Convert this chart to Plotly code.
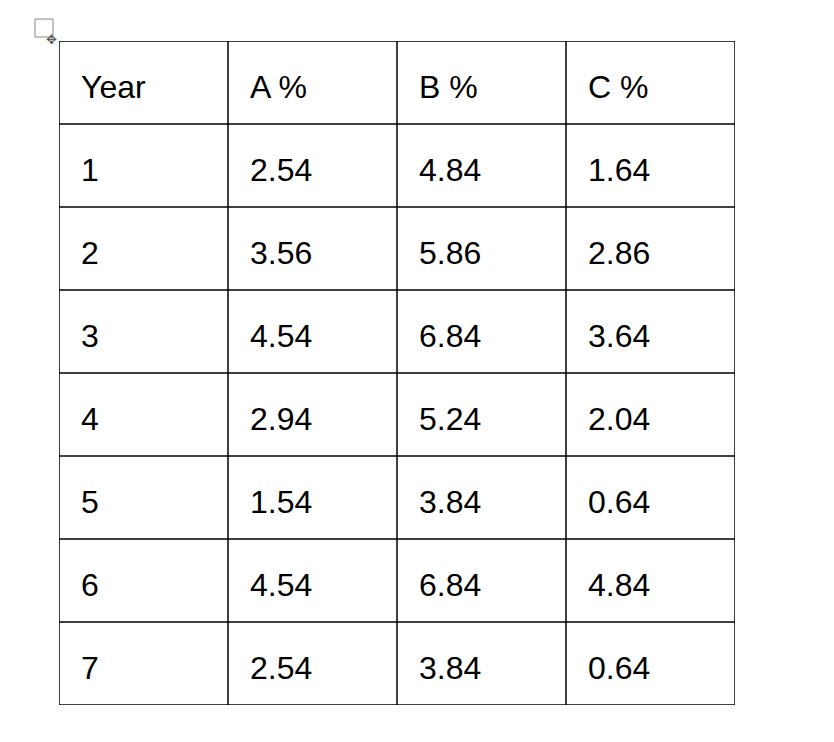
import plotly.graph_objects as go

years = [1, 2, 3, 4, 5, 6, 7]
a_pct = [2.54, 3.56, 4.54, 2.94, 1.54, 4.54, 2.54]
b_pct = [4.84, 5.86, 6.84, 5.24, 3.84, 6.84, 3.84]
c_pct = [1.64, 2.86, 3.64, 2.04, 0.64, 4.84, 0.64]
headers = ["Year", "A %", "B %", "C %"]

W, H = 834, 742
x0, x1, y0, y1 = 51, 727, 33, 697
ncol, nrow = 4, 8

columns = [[str(y) for y in years],
           [f"{v:.2f}" for v in a_pct],
           [f"{v:.2f}" for v in b_pct],
           [f"{v:.2f}" for v in c_pct]]

fig = go.Figure()
# grid lines
for i in range(ncol + 1):
    fig.add_shape(type="line", x0=i, x1=i, y0=0, y1=nrow,
                  line=dict(color="black", width=1.5))
for j in range(nrow + 1):
    fig.add_shape(type="line", x0=0, x1=ncol, y0=j, y1=j,
                  line=dict(color="black", width=1.5))
font = dict(family="Liberation Sans, Arial", size=32, color="black")
for c in range(ncol):
    cells = [headers[c]] + columns[c]
    for r, txt in enumerate(cells):
        fig.add_annotation(x=c + 0.12, y=r + 0.55, text=txt, showarrow=False,
                           xanchor="left", yanchor="middle", font=font)

fig.add_shape(type="rect", xref="paper", yref="paper",
              x0=27 / W, x1=45 / W, y0=1 - 29 / H, y1=1 - 11 / H,
              line=dict(color="#888", width=1))
fig.add_annotation(x=36 / W, y=1 - 20 / H, xref="paper", yref="paper",
                   text="✥", showarrow=False, font=dict(size=13, color="#555"))
fig.update_xaxes(range=[0, ncol], visible=False,
                 domain=[x0 / W, x1 / W])
fig.update_yaxes(range=[nrow, 0], visible=False,
                 domain=[1 - y1 / H, 1 - y0 / H])
fig.update_layout(width=W, height=H, margin=dict(l=0, r=0, t=0, b=0),
                  paper_bgcolor="white", plot_bgcolor="white", showlegend=False)
fig.write_html("out.html")
